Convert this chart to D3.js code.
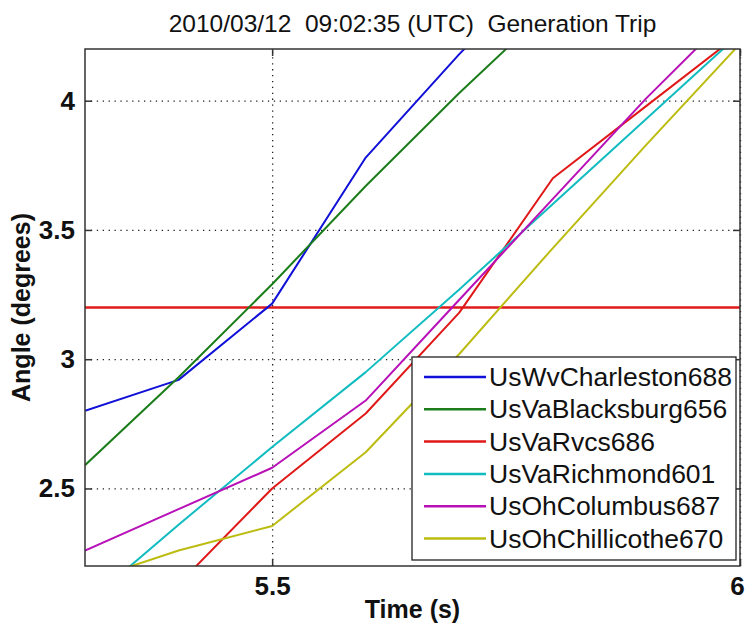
<!DOCTYPE html>
<html>
<head>
<meta charset="utf-8">
<script src="https://cdn.jsdelivr.net/npm/d3@7"></script>
<style>
    body { margin: 0; background: #fff; }
    svg { display: block; font-family: "Liberation Sans", Arial, sans-serif; }
    .tick-label { font-size: 26px; font-weight: bold; fill: #111; }
    .axis-label { font-size: 25px; font-weight: bold; fill: #111; }
    .title { font-size: 24.5px; fill: #111; white-space: pre; }
    .legend-text { font-size: 26.5px; fill: #111; }
</style>
</head>
<body>
<svg id="chart"></svg>
<script>
const times = [5.3, 5.4, 5.5, 5.6, 5.7, 5.8, 5.9, 6.0];
const names = ['UsWvCharleston688', 'UsVaBlacksburg656', 'UsVaRvcs686', 'UsVaRichmond601', 'UsOhColumbus687', 'UsOhChillicothe670'];
const colors = ['#1010d8', '#1a7d1a', '#e01818', '#10bcc0', '#b810b8', '#bcbc10'];
const charleston = [2.80, 2.92, 3.215, 3.78, 4.18, 4.55, 4.90, 5.25];
const blacksburg = [2.59, 2.93, 3.29, 3.67, 4.03, 4.37, 4.70, 5.03];
const rvcs = [1.76, 2.13, 2.50, 2.79, 3.18, 3.70, 3.98, 4.26];
const richmond = [2.05, 2.36, 2.66, 2.95, 3.27, 3.60, 3.93, 4.26];
const columbus = [2.26, 2.42, 2.58, 2.84, 3.23, 3.62, 4.01, 4.37];
const chillicothe = [2.14, 2.26, 2.355, 2.64, 3.02, 3.43, 3.83, 4.22];
const series = [charleston, blacksburg, rvcs, richmond, columbus, chillicothe];
const threshold = 3.2;
const xTicks = [5.5, 6];
const yTicks = [2.5, 3, 3.5, 4];
const titleText = '2010/03/12  09:02:35 (UTC)  Generation Trip';

const outerWidth = 746;
const outerHeight = 626;
const margin = { top: 49, left: 85, bottom: 60, right: 6 };
const innerWidth = outerWidth - margin.left - margin.right;
const innerHeight = outerHeight - margin.top - margin.bottom;

const xScale = d3.scaleLinear().domain([5.3, 6.0]).range([0, innerWidth]);
const yScale = d3.scaleLinear().domain([2.2, 4.2]).range([innerHeight, 0]);

const svg = d3.select('#chart')
    .attr('width', outerWidth)
    .attr('height', outerHeight);

const g = svg.append('g')
    .attr('transform', `translate(${margin.left},${margin.top})`);

g.append('defs').append('clipPath')
    .attr('id', 'plot-clip')
    .append('rect')
        .attr('width', innerWidth)
        .attr('height', innerHeight);

// dotted grid
const gridX = g.append('g')
    .attr('transform', `translate(0,${innerHeight})`)
    .call(d3.axisBottom(xScale).tickValues(xTicks).tickSize(-innerHeight));
const gridY = g.append('g')
    .call(d3.axisLeft(yScale).tickValues(yTicks).tickSize(-innerWidth));
[gridX, gridY].forEach(grid => {
    grid.select('.domain').remove();
    grid.selectAll('text').remove();
    grid.selectAll('line')
        .attr('stroke', '#222')
        .attr('stroke-width', 1.3)
        .attr('stroke-dasharray', '1.3,4.6');
});

// series lines
const line = d3.line()
    .x((d, i) => xScale(times[i]))
    .y(d => yScale(d));

const plot = g.append('g').attr('clip-path', 'url(#plot-clip)');

plot.append('line')
    .attr('x1', 0)
    .attr('x2', innerWidth)
    .attr('y1', yScale(threshold))
    .attr('y2', yScale(threshold))
    .attr('stroke', '#e01a1a')
    .attr('stroke-width', 2.5);

plot.selectAll('.series')
    .data(series)
    .join('path')
        .classed('series', true)
        .attr('d', line)
        .attr('fill', 'none')
        .attr('stroke', (d, i) => colors[i])
        .attr('stroke-width', 2)
        .attr('stroke-linejoin', 'round');

// axes box with inward ticks
const tickLen = 7;
const axisColor = '#333';
const xAxis = g.append('g')
    .attr('transform', `translate(0,${innerHeight})`)
    .call(d3.axisBottom(xScale).tickValues(xTicks).tickSize(-tickLen).tickPadding(11).tickFormat(d3.format('')));
const xAxisTop = g.append('g')
    .call(d3.axisTop(xScale).tickValues(xTicks).tickSize(-tickLen));
const yAxis = g.append('g')
    .call(d3.axisLeft(yScale).tickValues(yTicks).tickSize(-tickLen).tickPadding(10).tickFormat(d3.format('')));
const yAxisRight = g.append('g')
    .attr('transform', `translate(${innerWidth},0)`)
    .call(d3.axisRight(yScale).tickValues(yTicks).tickSize(-tickLen));
[xAxisTop, yAxisRight].forEach(ax => ax.selectAll('text').remove());
[xAxis, xAxisTop, yAxis, yAxisRight].forEach(ax => {
    ax.select('.domain').remove();
    ax.selectAll('line').attr('stroke', axisColor).attr('stroke-width', 1.5);
    ax.selectAll('text').attr('class', 'tick-label').attr('font-size', null).attr('font-family', null).attr('fill', null);
});
// keep the last x label inside the page
xAxis.selectAll('text').filter(d => d === 6).attr('dx', -3);

g.append('rect')
    .attr('width', innerWidth)
    .attr('height', innerHeight)
    .attr('fill', 'none')
    .attr('stroke', axisColor)
    .attr('stroke-width', 1.5);

// legend
const legend = g.append('g')
    .attr('transform', `translate(${xScale(5.3) + 327},${308})`);
legend.append('rect')
    .attr('width', 324)
    .attr('height', 203)
    .attr('fill', '#fff')
    .attr('stroke', '#222')
    .attr('stroke-width', 1.3);
const items = legend.selectAll('.legend-item')
    .data(names)
    .join('g')
        .classed('legend-item', true)
        .attr('transform', (d, i) => `translate(0,${20 + i * 32.3})`);
items.append('line')
    .attr('x1', 12)
    .attr('x2', 74)
    .attr('stroke', (d, i) => colors[i])
    .attr('stroke-width', 2.5);
items.append('text')
    .classed('legend-text', true)
    .attr('x', 77)
    .attr('y', 9)
    .text(d => d);

// title and labels
svg.append('text')
    .classed('title', true)
    .attr('x', margin.left + innerWidth / 2)
    .attr('y', 32)
    .attr('text-anchor', 'middle')
    .text(titleText);

svg.append('text')
    .classed('axis-label', true)
    .attr('x', margin.left + innerWidth / 2)
    .attr('y', 618)
    .attr('text-anchor', 'middle')
    .text('Time (s)');

svg.append('text')
    .classed('axis-label', true)
    .attr('transform', `translate(30,${margin.top + innerHeight / 2}) rotate(-90)`)
    .attr('text-anchor', 'middle')
    .text('Angle (degrees)');
</script>
</body>
</html>
